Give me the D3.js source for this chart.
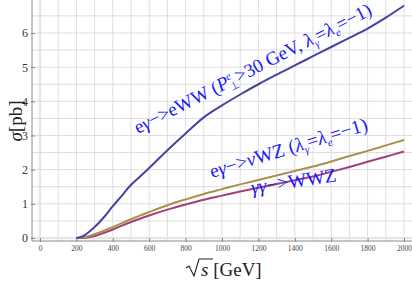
<!DOCTYPE html>
<html>
<head>
<meta charset="utf-8">
<script src="https://cdn.jsdelivr.net/npm/d3@7"></script>
<style>
  body { margin: 0; background: #fff; }
  svg { display: block; }
</style>
</head>
<body>
<svg id="chart" width="412" height="282"></svg>
<script>
// sqrt(s) in GeV, sigma in pb
const blueEWW = [
  [200, 0], [225, 0.03], [250, 0.1], [300, 0.32], [350, 0.6], [400, 0.93], [450, 1.24],
  [490, 1.5], [550, 1.8], [600, 2.05], [700, 2.57], [800, 3.06], [900, 3.53], [1000, 3.88],
  [1100, 4.2], [1200, 4.5], [1300, 4.78], [1400, 5.05], [1500, 5.32], [1600, 5.59],
  [1700, 5.86], [1800, 6.13], [1900, 6.45], [2000, 6.8]
];
const goldNuWZ = [
  [200, 0], [250, 0.03], [300, 0.11], [400, 0.32], [500, 0.55], [600, 0.76], [700, 0.96],
  [800, 1.13], [900, 1.29], [1000, 1.43], [1100, 1.57], [1200, 1.7], [1300, 1.83],
  [1400, 1.96], [1500, 2.09], [1600, 2.24], [1700, 2.4], [1800, 2.55], [1900, 2.71], [2000, 2.87]
];
const purpleWWZ = [
  [200, 0], [250, 0.01], [300, 0.06], [400, 0.25], [500, 0.47], [600, 0.66], [700, 0.83],
  [800, 0.98], [900, 1.12], [1000, 1.24], [1100, 1.36], [1200, 1.47], [1300, 1.58],
  [1400, 1.69], [1500, 1.8], [1600, 1.94], [1700, 2.08], [1800, 2.23], [1900, 2.38], [2000, 2.53]
];
const xTicks = [0, 200, 400, 600, 800, 1000, 1200, 1400, 1600, 1800, 2000];
const yTicks = [0, 1, 2, 3, 4, 5, 6];

const svg = d3.select('#chart');
const frameLeft = 32, frameBottom = 241, frameRight = 412, frameTop = 0;

const x = d3.scaleLinear().domain([0, 2000]).range([40, 404]);
const y = d3.scaleLinear().domain([0, 6]).range([238, 33]);

// grid
const gGrid = svg.append('g').attr('class', 'grid');
const xMinor = d3.range(0, 2101, 100).filter(v => x(v) > frameLeft && x(v) < frameRight);
gGrid.selectAll('.vgrid').data(xMinor).enter().append('line')
  .attr('x1', d => x(d)).attr('x2', d => x(d))
  .attr('y1', frameTop).attr('y2', frameBottom)
  .style('stroke', d => d === 0 ? '#e6e6e6' : '#d6d6d6')
  .style('stroke-width', d => d === 0 ? 2.5 : 0.8);
const yMinor = d3.range(0, 7.01, 0.5).filter(v => y(v) > frameTop && y(v) < frameBottom);
gGrid.selectAll('.hgrid').data(yMinor).enter().append('line')
  .attr('x1', frameLeft).attr('x2', frameRight)
  .attr('y1', d => y(d)).attr('y2', d => y(d))
  .style('stroke', d => d === 0 ? '#e6e6e6' : '#d6d6d6')
  .style('stroke-width', d => d === 0 ? 2.5 : 0.8);

// frame axes
const axisColor = '#8a8a8a';
svg.append('line').attr('x1', frameLeft).attr('x2', frameLeft).attr('y1', frameTop).attr('y2', frameBottom)
  .style('stroke', axisColor).style('stroke-width', 1);
svg.append('line').attr('x1', frameLeft).attr('x2', frameRight).attr('y1', frameBottom).attr('y2', frameBottom)
  .style('stroke', axisColor).style('stroke-width', 1);

const yAxis = d3.axisLeft(y).tickValues(yTicks).tickSize(4).tickPadding(3).tickFormat(d3.format('d'));
const gY = svg.append('g').attr('transform', 'translate(' + (frameLeft + 3) + ',0)').call(yAxis);
gY.select('.domain').remove();
gY.selectAll('line').style('stroke', axisColor);
gY.selectAll('text').style('font-family', '"Liberation Serif", serif').style('font-size', '12px').style('fill', '#333');

const xAxis = d3.axisBottom(x).tickValues(xTicks).tickSize(4).tickPadding(4).tickFormat(d3.format('d'));
const gX = svg.append('g').attr('transform', 'translate(0,' + (frameBottom - 3) + ')').call(xAxis);
gX.select('.domain').remove();
gX.selectAll('line').style('stroke', axisColor);
gX.selectAll('text').style('font-family', '"Liberation Serif", serif').style('font-size', '7.5px').style('fill', '#444');

// curves
const line = d3.line().x(d => x(d[0])).y(d => y(d[1])).curve(d3.curveMonotoneX);
const series = [
  {data: purpleWWZ, color: '#a0407a'},
  {data: goldNuWZ, color: '#a8924a'},
  {data: blueEWW, color: '#4444a0'}
];
svg.selectAll('.curve').data(series).enter().append('path')
  .attr('class', 'curve')
  .attr('d', d => line(d.data))
  .style('fill', 'none')
  .style('stroke', d => d.color)
  .style('stroke-width', 2);

// annotations
const textBlue = '#1a1af5';
function label(px, py, angle, size) {
  return svg.append('text')
    .attr('transform', 'translate(' + px + ',' + py + ') rotate(' + angle + ')')
    .style('font-family', '"Liberation Serif", serif')
    .style('font-size', size + 'px')
    .style('fill', textBlue);
}

const t1 = label(138, 134, -27, 19);
t1.append('tspan').text('e');
t1.append('tspan').style('font-style', 'italic').text('γ');
t1.append('tspan').text('−>eWW (');
t1.append('tspan').style('font-style', 'italic').text('P');
t1.append('tspan').attr('dy', -7).style('font-size', '11px').style('font-style', 'italic').text('e');
t1.append('tspan').attr('dx', -6).attr('dy', 11).style('font-size', '11px').text('⊥');
t1.append('tspan').attr('dy', -4).text('>30 GeV, ');
t1.append('tspan').style('font-style', 'italic').text('λ');
t1.append('tspan').attr('dy', 4).style('font-size', '11px').style('font-style', 'italic').text('γ');
t1.append('tspan').attr('dy', -4).text('=');
t1.append('tspan').style('font-style', 'italic').text('λ');
t1.append('tspan').attr('dy', 4).style('font-size', '11px').style('font-style', 'italic').text('e');
t1.append('tspan').attr('dy', -4).text('=−1)');

const t2 = label(212, 178, -17, 19.5);
t2.append('tspan').text('e');
t2.append('tspan').style('font-style', 'italic').text('γ');
t2.append('tspan').text('−>');
t2.append('tspan').style('font-style', 'italic').text('ν');
t2.append('tspan').text('WZ (');
t2.append('tspan').style('font-style', 'italic').text('λ');
t2.append('tspan').attr('dy', 4).style('font-size', '11px').style('font-style', 'italic').text('γ');
t2.append('tspan').attr('dy', -4).text('=');
t2.append('tspan').style('font-style', 'italic').text('λ');
t2.append('tspan').attr('dy', 4).style('font-size', '11px').style('font-style', 'italic').text('e');
t2.append('tspan').attr('dy', -4).text('=−1)');

const t3 = label(252, 194, -8.5, 19.5);
t3.append('tspan').style('font-style', 'italic').text('γγ');
t3.append('tspan').text('−>WWZ');

// axis titles
const yTitle = svg.append('text')
  .attr('transform', 'translate(22,121) rotate(-90)')
  .attr('text-anchor', 'middle')
  .style('font-family', '"Liberation Serif", serif')
  .style('font-size', '19px')
  .style('fill', '#222');
yTitle.append('tspan').style('font-style', 'italic').text('σ');
yTitle.append('tspan').text('[pb]');

const xTitle = svg.append('g').attr('transform', 'translate(186,276)');
xTitle.append('path')
  .attr('d', 'M0,-8 L3,-10 L8,0 L13,-17 L27,-17')
  .style('fill', 'none').style('stroke', '#222').style('stroke-width', 1.1);
xTitle.append('text')
  .attr('x', 15)
  .style('font-family', '"Liberation Serif", serif')
  .style('font-size', '19px')
  .style('fill', '#222')
  .call(t => {
    t.append('tspan').style('font-style', 'italic').text('s');
    t.append('tspan').text(' [GeV]');
  });
</script>
</body>
</html>
